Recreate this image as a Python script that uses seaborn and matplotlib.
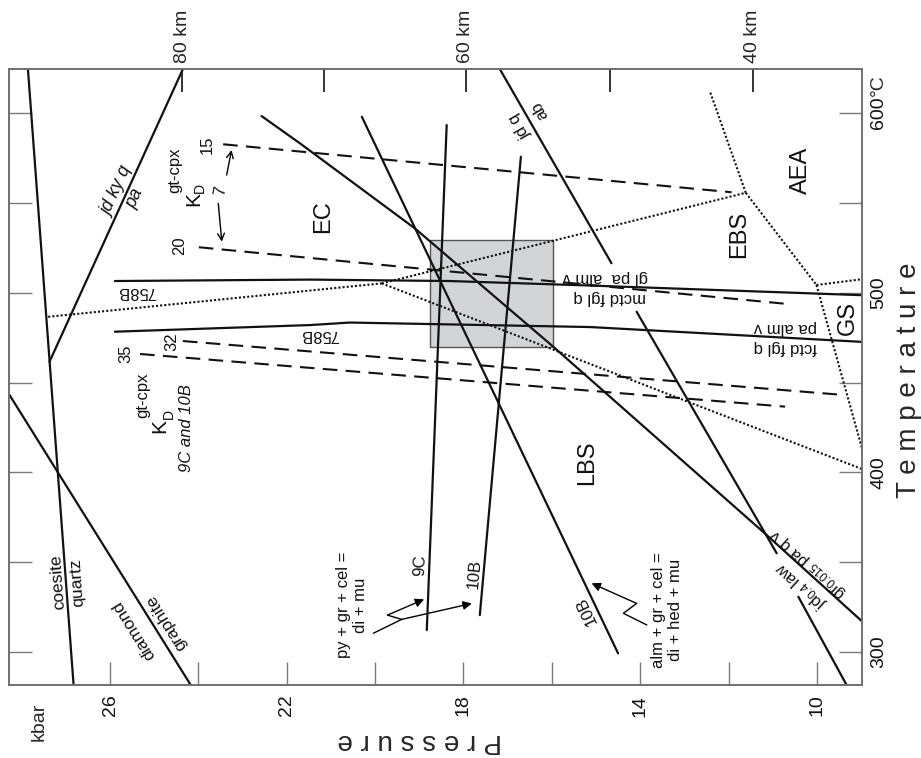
import matplotlib
matplotlib.use("Agg")
import matplotlib.pyplot as plt
import seaborn as sns

# --- P-T diagram data: pressure in kbar, temperature in deg C ---
# mineral reactions (solid)
coe_qz_P = [26.82, 27.86]
coe_qz_T = [280, 625]
dia_gr_P = [24.13, 28.40]
dia_gr_T = [280, 448]
jdkyq_pa_P = [27.37, 24.34]
jdkyq_pa_T = [461.6, 625]
jdq_ab_P1 = [17.19, 14.65]
jdq_ab_T1 = [625, 516.4]
jdq_ab_P2 = [14.08, 10.91]
jdq_ab_T2 = [489.4, 355.0]
jdlaw_P = [22.57, 21.70, 19.10, 15.97, 11.18, 8.95]
jdlaw_T = [598.3, 583.1, 535.8, 470.0, 366.1, 316.5]
law_P = [10.42, 9.29]
law_T = [330.8, 280]

# sample 758B isotherms (solid)
s758_hi_P = [25.89, 21.47, 18.31, 15.14, 8.95]
s758_hi_T = [506.5, 507.3, 506.5, 504.0, 498.6]
s758_lo_P = [25.89, 21.47, 20.57, 15.14, 8.95]
s758_lo_T = [478.3, 482.0, 483.4, 480.9, 472.6]

# py+gr+cel / alm+gr+cel equilibria for 9C and 10B
s9c_P = [18.38, 18.83]
s9c_T = [593.3, 312.3]
s10b_P = [16.70, 17.63]
s10b_T = [575.7, 320.6]
s10b_alm_P = [20.30, 14.50]
s10b_alm_T = [597.9, 299.3]

# KD gt-cpx isopleths (dashed)
kd15_P = [23.44, 11.93]
kd15_T = [582.6, 555.9]
kd20_P = [23.99, 10.57]
kd20_T = [525.3, 493.5]
kd32_P = [24.35, 9.40]
kd32_T = [473.1, 443.1]
kd35_P = [25.32, 10.72]
kd35_T = [465.9, 436.6]

# facies boundaries (dotted)
fac_ec_left_P = [27.40, 19.85]
fac_ec_left_T = [486.6, 505.2]
fac_ec_ebs_P = [19.85, 11.61]
fac_ec_ebs_T = [505.2, 555.6]
fac_lbs_P = [19.85, 8.95]
fac_lbs_T = [505.2, 401.6]
fac_aea_P = [11.61, 12.42]
fac_aea_T = [555.6, 611.9]
fac_ebs_aea_P = [11.61, 10.01]
fac_ebs_aea_T = [555.6, 504.3]
fac_gs_top_P = [10.01, 8.95]
fac_gs_top_T = [504.3, 507.6]
fac_gs_low_P = [10.01, 8.95]
fac_gs_low_T = [504.3, 410.8]

# estimated peak conditions (grey box)
box_P = [15.97, 18.76]
box_T = [470.0, 529.3]

# pointer arrows
py_stem_P = [20.04, 19.40]
py_stem_T = [310.5, 318.2]
py_arrow1_P = [19.40, 19.72, 18.89]
py_arrow1_T = [318.2, 320.6, 329.4]
py_arrow2_P = [19.40, 17.81]
py_arrow2_T = [318.2, 327.1]
alm_arrow_P = [13.85, 14.38, 14.08, 15.10]
alm_arrow_T = [315.1, 321.6, 327.1, 338.3]
kd_up_P = [23.36, 23.25]
kd_up_T = [565.5, 579.4]
kd_down_P = [23.55, 23.47]
kd_down_T = [549.7, 528.4]

# axes ticks
P_ticks = [10, 12, 14, 16, 18, 20, 22, 24, 26]
P_labels = ["10", "", "14", "", "18", "", "22", "", "26"]
T_ticks = [300, 350, 400, 450, 500, 550, 600]
T_labels = ["300", "", "400", "", "500", "", "600"]
depth_P = [11.45, 14.68, 17.95, 21.16, 24.37]
depth_labels = ["40 km", "", "60 km", "", "80 km"]

sns.set_style("ticks")
plt.rcParams["font.family"] = ["Liberation Sans", "DejaVu Sans"]
plt.rcParams["mathtext.default"] = "regular"

fig = plt.figure(figsize=(9.21, 7.58), dpi=100)
ax = fig.add_axes([0.0101, 0.0963, 0.9258, 0.8127])

ax.fill_between(box_P, box_T[0], box_T[1], color="#d2d4d6", edgecolor="#555555",
                linewidth=1.0, zorder=0.5)

solid = [(coe_qz_P, coe_qz_T), (dia_gr_P, dia_gr_T), (jdkyq_pa_P, jdkyq_pa_T),
         (jdq_ab_P1, jdq_ab_T1), (jdq_ab_P2, jdq_ab_T2), (jdlaw_P, jdlaw_T),
         (law_P, law_T), (s758_hi_P, s758_hi_T), (s758_lo_P, s758_lo_T),
         (s9c_P, s9c_T), (s10b_P, s10b_T), (s10b_alm_P, s10b_alm_T)]
for p, t in solid:
    sns.lineplot(x=p, y=t, ax=ax, sort=False, estimator=None, color="#111111", linewidth=1.6)

dashed = [(kd15_P, kd15_T), (kd20_P, kd20_T), (kd32_P, kd32_T), (kd35_P, kd35_T)]
for p, t in dashed:
    sns.lineplot(x=p, y=t, ax=ax, sort=False, estimator=None, color="#111111",
                 linewidth=1.5, linestyle=(0, (7, 4)))

dotted = [(fac_ec_left_P, fac_ec_left_T), (fac_ec_ebs_P, fac_ec_ebs_T), (fac_lbs_P, fac_lbs_T),
          (fac_aea_P, fac_aea_T), (fac_ebs_aea_P, fac_ebs_aea_T),
          (fac_gs_top_P, fac_gs_top_T), (fac_gs_low_P, fac_gs_low_T)]
for p, t in dotted:
    sns.lineplot(x=p, y=t, ax=ax, sort=False, estimator=None, color="#111111",
                 linewidth=1.5, linestyle=(0, (1, 1)))

# arrows
for p, t in [(py_stem_P, py_stem_T), (py_arrow1_P[:-1], py_arrow1_T[:-1]),
             (alm_arrow_P[:-1], alm_arrow_T[:-1])]:
    sns.lineplot(x=p, y=t, ax=ax, sort=False, estimator=None, color="k", linewidth=1.0)
for p, t in [(py_arrow1_P, py_arrow1_T), (py_arrow2_P, py_arrow2_T), (alm_arrow_P, alm_arrow_T)]:
    ax.annotate("", xy=(p[-1], t[-1]), xytext=(p[-2], t[-2]),
                arrowprops=dict(arrowstyle="-|>", color="k", lw=1.0, mutation_scale=13,
                                shrinkA=0, shrinkB=0))
for p, t in [(kd_up_P, kd_up_T), (kd_down_P, kd_down_T)]:
    ax.annotate("", xy=(p[-1], t[-1]), xytext=(p[0], t[0]),
                arrowprops=dict(arrowstyle="->", color="k", lw=1.0, mutation_scale=12,
                                shrinkA=0, shrinkB=0))

# labels: text, P, T, rotation, size, style
labels = [
    ("EC", 21.18, 542.4, 90, 17, "normal"),
    ("LBS", 15.20, 405.5, 90, 17, "normal"),
    ("EBS", 11.77, 532.4, 90, 17, "normal"),
    ("AEA", 10.36, 568.3, 90, 17, "normal"),
    ("GS", 9.31, 486.2, 90, 17, "normal"),
    ("coesite", 27.18, 339.0, 94, 12.5, "normal"),
    ("quartz", 26.75, 339.0, 94, 12.5, "normal"),
    ("diamond", 25.46, 312.3, 122, 12.5, "normal"),
    ("graphite", 24.73, 316.7, 122, 12.5, "normal"),
    ("jd ky q", 25.84, 556.0, 65.5, 13, "italic"),
    ("pa", 25.43, 552.7, 65.5, 13, "italic"),
    ("15", 23.79, 582.5, 90, 12, "normal"),
    ("20", 24.42, 526.0, 90, 12, "normal"),
    ("32", 24.61, 472.8, 90, 12, "normal"),
    ("35", 25.65, 465.9, 90, 12, "normal"),
    ("7", 23.51, 556.6, 80, 12, "normal"),
    ("9C and 10B", 24.27, 424.7, 90, 12, "italic"),
    ("758B", 25.39, 500.4, 180, 12, "normal"),
    ("758B", 21.25, 476.5, 180, 12, "normal"),
    ("gl pa  alm v", 14.80, 508.7, 180, 12, "normal"),
    ("mctd fgl q", 14.68, 497.3, 180, 12, "normal"),
    ("pa alm v", 10.72, 480.6, 180, 12, "normal"),
    ("fctd fgl q", 10.72, 469.5, 180, 12, "normal"),
    ("jd q", 16.71, 592.9, 120, 12, "normal"),
    ("ab", 16.27, 601.7, 120, 12, "normal"),
    ("9C", 18.98, 348.5, 88, 12, "normal"),
    ("10B", 17.75, 343.7, 85, 12, "normal"),
    ("10B", 15.23, 322.9, 115.5, 12, "normal"),
    ("py + gr + cel =\ndi + mu", 20.52, 326.2, 90, 12, "normal"),
    ("alm + gr + cel =\ndi + hed + mu", 13.39, 323.4, 90, 12, "normal"),
    ("gr$_{0.015}$ pa q v", 10.19, 349.3, 138, 12, "normal"),
    ("jd$_{0.4}$ law", 10.36, 337.3, 138, 12, "normal"),
    # KD gt-cpx labels
    ("K", 24.11, 551.9, 90, 15, "normal"),
    ("D", 23.96, 558.5, 90, 10, "normal"),
    ("gt-cpx", 24.53, 568.3, 90, 12, "normal"),
    ("K", 24.88, 426.1, 90, 15, "normal"),
    ("D", 24.66, 432.5, 90, 10, "normal"),
    ("gt-cpx", 25.26, 442.8, 90, 12, "normal"),
]
for txt, p, t, rot, size, style in labels:
    ax.text(p, t, txt, rotation=rot, fontsize=size, style=style, ha="center",
            va="center", multialignment="center", color="#111111")

# axes
ax.set_xlim(28.28, 8.98)
ax.set_ylim(281.7, 624.5)
ax.set_xticks(P_ticks)
ax.set_xticklabels(P_labels)
ax.set_yticks(T_ticks)
ax.set_yticklabels(T_labels)
ax.tick_params(axis="both", direction="in", length=16.5, width=1.0, color="#7a7a7a",
               labelsize=14, labelcolor="#111111")
ax.tick_params(axis="x", labelrotation=90, pad=7)
ax.tick_params(axis="y", left=True, right=True, labelleft=False, labelright=True,
               labelrotation=90, pad=6)
for tk in ax.yaxis.get_major_ticks():
    tk.label2.set_va("center")
for s in ax.spines.values():
    s.set_color("#6f6f6f")
    s.set_linewidth(1.2)

top = ax.twiny()
top.set_xlim(ax.get_xlim())
top.set_xticks(depth_P)
top.set_xticklabels(depth_labels)
top.tick_params(axis="x", direction="in", length=16.5, width=1.2, color="#111111",
                labelsize=14, labelrotation=90, pad=4.5)
for s in top.spines.values():
    s.set_color("#6f6f6f")
    s.set_linewidth(1.2)

ax.annotate("°C", xy=(1, 609.5), xycoords=("axes fraction", "data"), xytext=(6, 0),
            textcoords="offset points", rotation=90, ha="left", va="bottom", fontsize=14)
fig.text(0.0429, 0.0475, "kbar", rotation=90, ha="center", va="center", fontsize=14)
fig.text(0.456, 0.023, "P r e s s u r e", rotation=180, ha="center", va="center", fontsize=20)
fig.text(0.987, 0.498, "T e m p e r a t u r e", rotation=90, ha="center", va="center",
         fontsize=20)

fig.savefig("out.png", dpi=100)
